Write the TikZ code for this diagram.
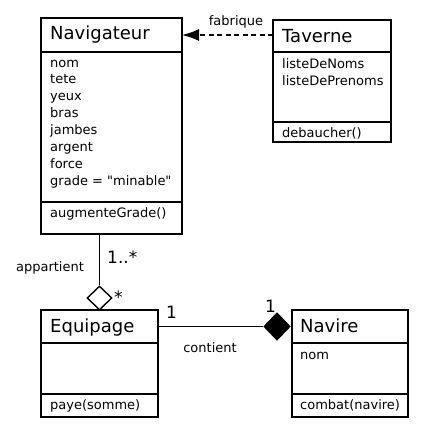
\documentclass[tikz,border=0pt]{standalone}
\usepackage{fontspec}
\setmainfont{DejaVu Sans}[Ligatures=TeXOff]
\usetikzlibrary{shapes.geometric,arrows.meta}
\tikzset{
  classbox/.style={draw, line width=1.4pt, rectangle, inner sep=0pt, outer sep=0pt, anchor=north west},
  divider/.style={line width=1.4pt},
  titletext/.style={anchor=base west, inner sep=0pt, font=\fontsize{18}{20}\selectfont},
  bodytext/.style={anchor=base west, inner sep=0pt, font=\fontsize{13}{16}\selectfont},
  labeltext/.style={anchor=base, inner sep=0pt, font=\fontsize{13}{16}\selectfont},
  multtext/.style={anchor=base west, inner sep=0pt, font=\fontsize{17}{19}\selectfont},
  conn/.style={line width=1.4pt},
  depconn/.style={line width=1.4pt, dash pattern=on 5pt off 3.5pt, -{Latex[length=17pt,width=12pt]}},
  aggdiamond/.style={draw, diamond, line width=1.4pt, fill=white, inner sep=0pt, minimum width=25pt, minimum height=24pt},
  compdiamond/.style={draw, diamond, line width=1.4pt, fill=black, inner sep=0pt, minimum width=26pt, minimum height=27pt}
}
\begin{document}
\begin{tikzpicture}[x=1pt, y=-1pt]
\useasboundingbox (0,0) rectangle (425,436);
% Navigateur
\node[classbox, minimum width=141pt, minimum height=216pt] (nav) at (41,18) {};
\draw[divider] (41,52) -- (182,52);
\draw[divider] (41,202) -- (182,202);
\node[titletext] (navt) at (50,40) {Navigateur};
\foreach \t [count=\i from 0] in {nom,tete,yeux,bras,jambes,argent,force,{grade = "minable"}}
  \node[bodytext] (nava\i) at (50,67+16.9*\i) {\t};
\node[bodytext] (navm) at (50,217.5) {augmenteGrade()};
% Taverne
\node[classbox, minimum width=118pt, minimum height=122pt] (tav) at (273,20) {};
\draw[divider] (273,52) -- (391,52);
\draw[divider] (273,122) -- (391,122);
\node[titletext] (tavt) at (282,42) {Taverne};
\node[bodytext] (tava0) at (282,68) {listeDeNoms};
\node[bodytext] (tava1) at (282,85) {listeDePrenoms};
\node[bodytext] (tavm) at (282,137) {debaucher()};
% Equipage
\node[classbox, minimum width=117pt, minimum height=107pt] (equ) at (41,310) {};
\draw[divider] (41,343) -- (158,343);
\draw[divider] (41,394) -- (158,394);
\node[titletext] (equt) at (50,332) {Equipage};
\node[bodytext] (equm) at (50,409) {paye(somme)};
% Navire
\node[classbox, minimum width=116pt, minimum height=107pt] (nvr) at (292,310) {};
\draw[divider] (292,343) -- (408,343);
\draw[divider] (292,394) -- (408,394);
\node[titletext] (nvrt) at (300,332) {Navire};
\node[bodytext] (nvra) at (300,359) {nom};
\node[bodytext] (nvrm) at (300,409) {combat(navire)};
% Aggregation
\node[aggdiamond] (agg) at (99.5,298) {};
\draw[conn] (agg.north |- nav.south) -- (agg.north);
\node[labeltext] (appl) at (50,271) {appartient};
\node[multtext] (m1) at (107,263.5) {1..*};
\node[multtext] (m2) at (114,303) {*};
% Composition
\node[compdiamond] (comp) at (277,326.5) {};
\draw[conn] (equ.east |- comp.west) -- (comp.west);
\node[labeltext] (contl) at (210,352) {contient};
\node[multtext] (m3) at (166,318.5) {1};
\node[multtext] (m4) at (265,312) {1};
% Dependency
\draw[depconn] ([yshift=-15pt]tav.north west) -- ([yshift=-17pt]nav.north east);
\node[labeltext] (fabl) at (236,26) {fabrique};
\end{tikzpicture}
\end{document}
